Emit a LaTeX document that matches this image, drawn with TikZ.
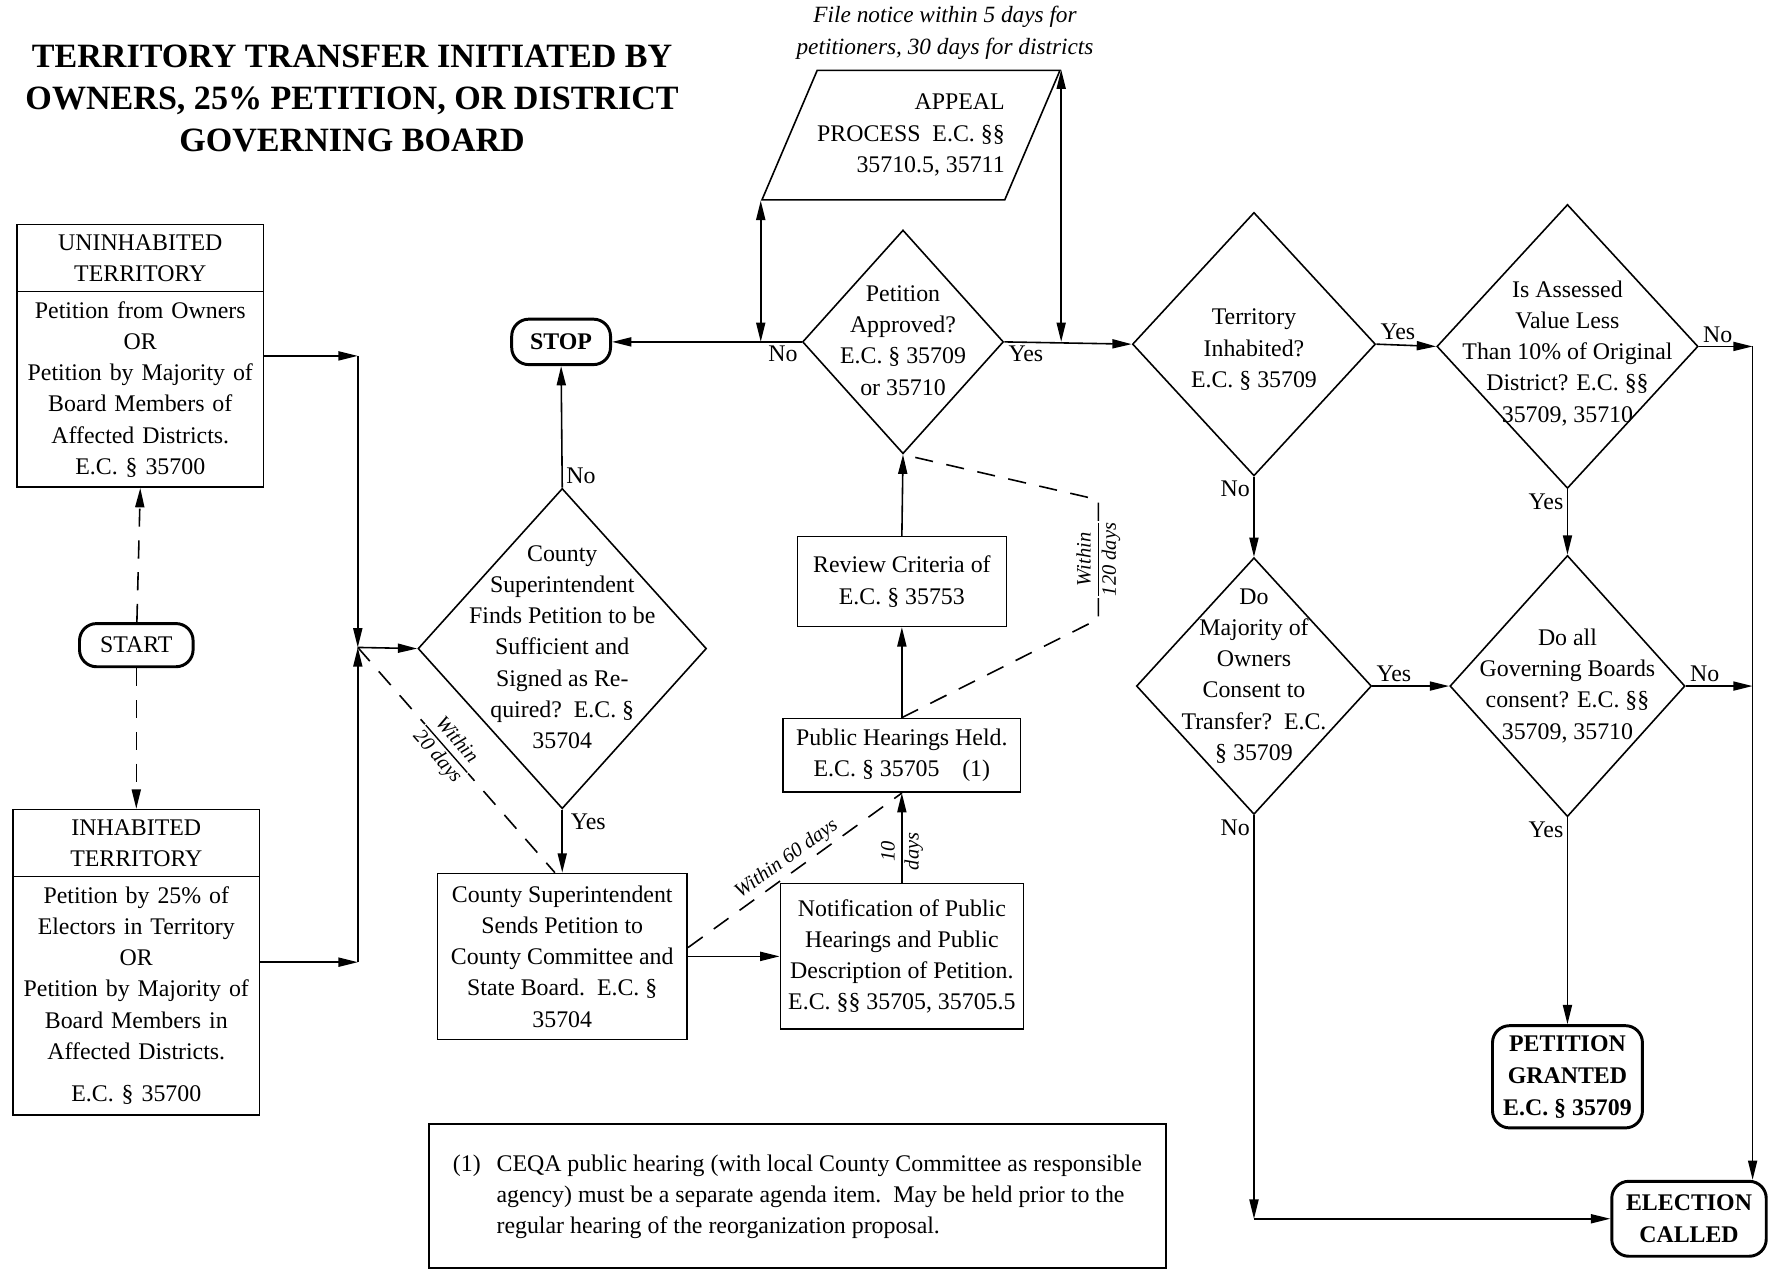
\documentclass[tikz,border=0pt]{standalone}
\usepackage{fontspec}
\setmainfont{Liberation Serif}
\usetikzlibrary{shapes.geometric,shapes.multipart,arrows.meta}

\setlength{\arrayrulewidth}{1.2pt}
\newcommand{\dtext}[2][0pt]{\makebox[0pt]{\smash{\raisebox{\dimexpr#1-.25em\relax}{\begin{tabular}{@{}c@{}}#2\end{tabular}}}}}
\newcommand{\lagtext}[2]{\begin{tabular}{@{}c@{}}#1\\\hline #2\end{tabular}}

\tikzset{
    box/.style={draw, align=center, inner sep=3pt},
    splitbox/.style={draw, rectangle split, rectangle split parts=2, text width=209pt, align=center, inner xsep=4pt, inner ysep=8pt},
    decision/.style={draw, diamond, inner sep=0pt},
    terminal/.style={draw, rounded corners=15pt, line width=2.6pt, align=center, font=\fontsize{21}{28}\selectfont\bfseries},
    appealbox/.style={draw, trapezium, trapezium left angle=56, trapezium right angle=124, trapezium stretches body=true, align=right, inner sep=0pt},
    answer/.style={inner sep=3pt},
    lag/.style={dash pattern=on 16pt off 12pt},
    within/.style={sloped, fill=white, inner sep=1pt, font=\fontsize{18}{21}\selectfont\itshape}
}

\begin{document}
\begin{tikzpicture}[x=1pt, y=-1pt, line width=1.4pt, >={Triangle[length=17pt,width=8pt]}, font=\fontsize{21}{27.5}\selectfont]
    \useasboundingbox (0,0) rectangle (1568,1127);

    \node[font=\fontsize{30}{37}\selectfont\bfseries, align=center] (title) at (310,87) {TERRITORY TRANSFER INITIATED BY\\OWNERS, 25\% PETITION, OR DISTRICT\\GOVERNING BOARD};
    \node[font=\fontsize{20.5}{28}\selectfont\itshape, align=center] (filenote) at (832,29) {File notice within 5 days for\\petitioners, 30 days for districts};

    \node[splitbox, anchor=north] (uninhab) at (123.5,197) {UNINHABITED\\TERRITORY\nodepart{two}Petition from Owners\\OR\\Petition by Majority of\\Board Members of\\Affected Districts.\\E.C. § 35700};
    \node[splitbox, anchor=north] (inhab) at (120,712) {INHABITED\\TERRITORY\nodepart{two}Petition by 25\% of\\Electors in Territory\\OR\\Petition by Majority of\\Board Members in\\Affected Districts.\\[10pt]E.C. § 35700};
    \node[terminal, font=\fontsize{21}{28}\selectfont, minimum width=100pt, minimum height=38pt] (start) at (120,568) {START};
    \node[terminal, minimum width=87pt, minimum height=40pt] (stop) at (494,301) {STOP};

    \node[decision, minimum width=254pt, minimum height=282pt] (suff) at (495,571) {\dtext{County\\Superintendent\\Finds Petition to be\\Sufficient and\\Signed as Re-\\quired?\ \ E.C. §\\35704}};
    \node[box, minimum width=220pt, minimum height=146pt] (sends) at (495,842) {County Superintendent\\Sends Petition to\\County Committee and\\State Board.\ \ E.C. §\\35704};
    \node[box, minimum width=214pt, minimum height=128pt] (notice) at (794,842) {Notification of Public\\Hearings and Public\\Description of Petition.\\E.C. §§ 35705, 35705.5};
    \node[box, minimum width=209pt, minimum height=65pt] (hearing) at (794,665) {Public Hearings Held.\\E.C. § 35705\hspace{20pt}(1)};
    \node[box, minimum width=184pt, minimum height=79pt] (review) at (794,512) {Review Criteria of\\E.C. § 35753};
    \node[decision, minimum width=177pt, minimum height=197pt] (appr) at (795,301) {\dtext{Petition\\Approved?\\E.C. § 35709\\or 35710}};
    \node[appealbox, minimum width=250pt, minimum height=114pt] (appeal) at (802,119) {APPEAL\\PROCESS\ \ E.C. §§\\35710.5, 35711};

    \node[decision, minimum width=214pt, minimum height=232pt] (terr) at (1104,303) {\dtext[-5pt]{Territory\\Inhabited?\\E.C. § 35709}};
    \node[decision, minimum width=230pt, minimum height=250pt] (value) at (1380,305) {\dtext[-6pt]{Is Assessed\\Value Less\\Than 10\% of Original\\District? E.C. §§\\35709, 35710}};
    \node[decision, minimum width=207pt, minimum height=226pt] (owners) at (1104,604) {\dtext[9pt]{Do\\Majority of\\Owners\\Consent to\\Transfer?\ \ E.C.\\§ 35709}};
    \node[decision, minimum width=207pt, minimum height=230pt] (boards) at (1380,604) {\dtext{Do all\\Governing Boards\\consent? E.C. §§\\35709, 35710}};
    \node[terminal, minimum width=132pt, minimum height=90pt] (granted) at (1380,948) {PETITION\\GRANTED\\E.C. § 35709};
    \node[terminal, minimum width=136pt, minimum height=66pt] (election) at (1487,1073) {ELECTION\\CALLED};

    \node[box, line width=2.2pt, minimum width=649pt, minimum height=127pt] (note) at (702,1053) {\begin{tabular}{@{}l@{\hspace{14pt}}l@{}}(1) & CEQA public hearing (with local County Committee as responsible\\ & agency) must be a separate agenda item.\ \ May be held prior to the\\ & regular hearing of the reorganization proposal.\end{tabular}};

    \coordinate (junc) at (315,570);
    \coordinate (rline) at (1543,305);

    \draw[lag, ->] (start) -- (uninhab.south);
    \draw[lag, ->] (start) -- (inhab.north);
    \draw[->] (uninhab.east) -- (junc |- uninhab.east);
    \draw[->] (junc |- uninhab.east) -- (junc);
    \draw[->] (inhab.east) -- (junc |- inhab.east);
    \draw[->] (junc |- inhab.east) -- (junc);
    \draw[->] (junc) -- (suff.west);
    \draw[lag] (junc) -- node[within, pos=0.45] {\lagtext{Within}{20 days}} (sends.95);

    \draw[->] (suff.north) -- node[answer, pos=0, anchor=south west] {No} (stop.south);
    \draw[->] (suff.south) -- node[answer, pos=0, anchor=north west, xshift=4pt] {Yes} (sends.north);
    \draw[->] (sends.east) -- (notice.west);
    \draw[lag] (sends.4) -- node[midway, sloped, above, font=\fontsize{18}{21}\selectfont\itshape] {Within 60 days} (hearing.south);
    \draw[->] (notice.north) -- node[pos=0.35, sloped, font=\fontsize{18}{21}\selectfont\itshape] {\begin{tabular}{@{}c@{}}10\\days\end{tabular}} (hearing.south);
    \draw[->] (hearing.north) -- (review.south);
    \draw[->] (review.north) -- (appr.south);
    \draw[lag] (hearing.north) -- (967,545) -- node[within] {\lagtext{Within}{120 days}} (967,440) -- (appr.south);

    \draw[->] (appr.west) -- node[answer, pos=0, anchor=north east] {No} (stop.east);
    \draw[<->] (appeal.bottom left corner) -- (appeal.bottom left corner |- appr.west);
    \draw[<->] (appeal.top right corner) -- (appeal.top right corner |- appr.east);
    \draw[->] (appr.east) -- node[answer, pos=0, anchor=north west] {Yes} (terr.west);

    \draw[->] (terr.east) -- node[answer, pos=0, anchor=south west] {Yes} (value.west);
    \draw[->] (terr.south) -- node[answer, pos=0, anchor=north east] {No} (owners.north);
    \draw[->] (value.east) -- node[answer, pos=0, anchor=south west] {No} (rline);
    \draw[->] (value.south) -- node[answer, pos=0, anchor=north east] {Yes} (boards.north);
    \draw[->] (owners.east) -- node[answer, pos=0, anchor=south west] {Yes} (boards.west);
    \draw[->] (boards.east) -- node[answer, pos=0, anchor=south west] {No} (boards.east -| rline);
    \draw[->] (boards.south) -- node[answer, pos=0, anchor=north east] {Yes} (granted.north);
    \draw[->] (rline) -- (rline |- election.north);
    \draw[->] (owners.south) -- node[answer, pos=0, anchor=north east] {No} (owners.south |- election.west);
    \draw[->] (owners.south |- election.west) -- (election.west);
\end{tikzpicture}
\end{document}
